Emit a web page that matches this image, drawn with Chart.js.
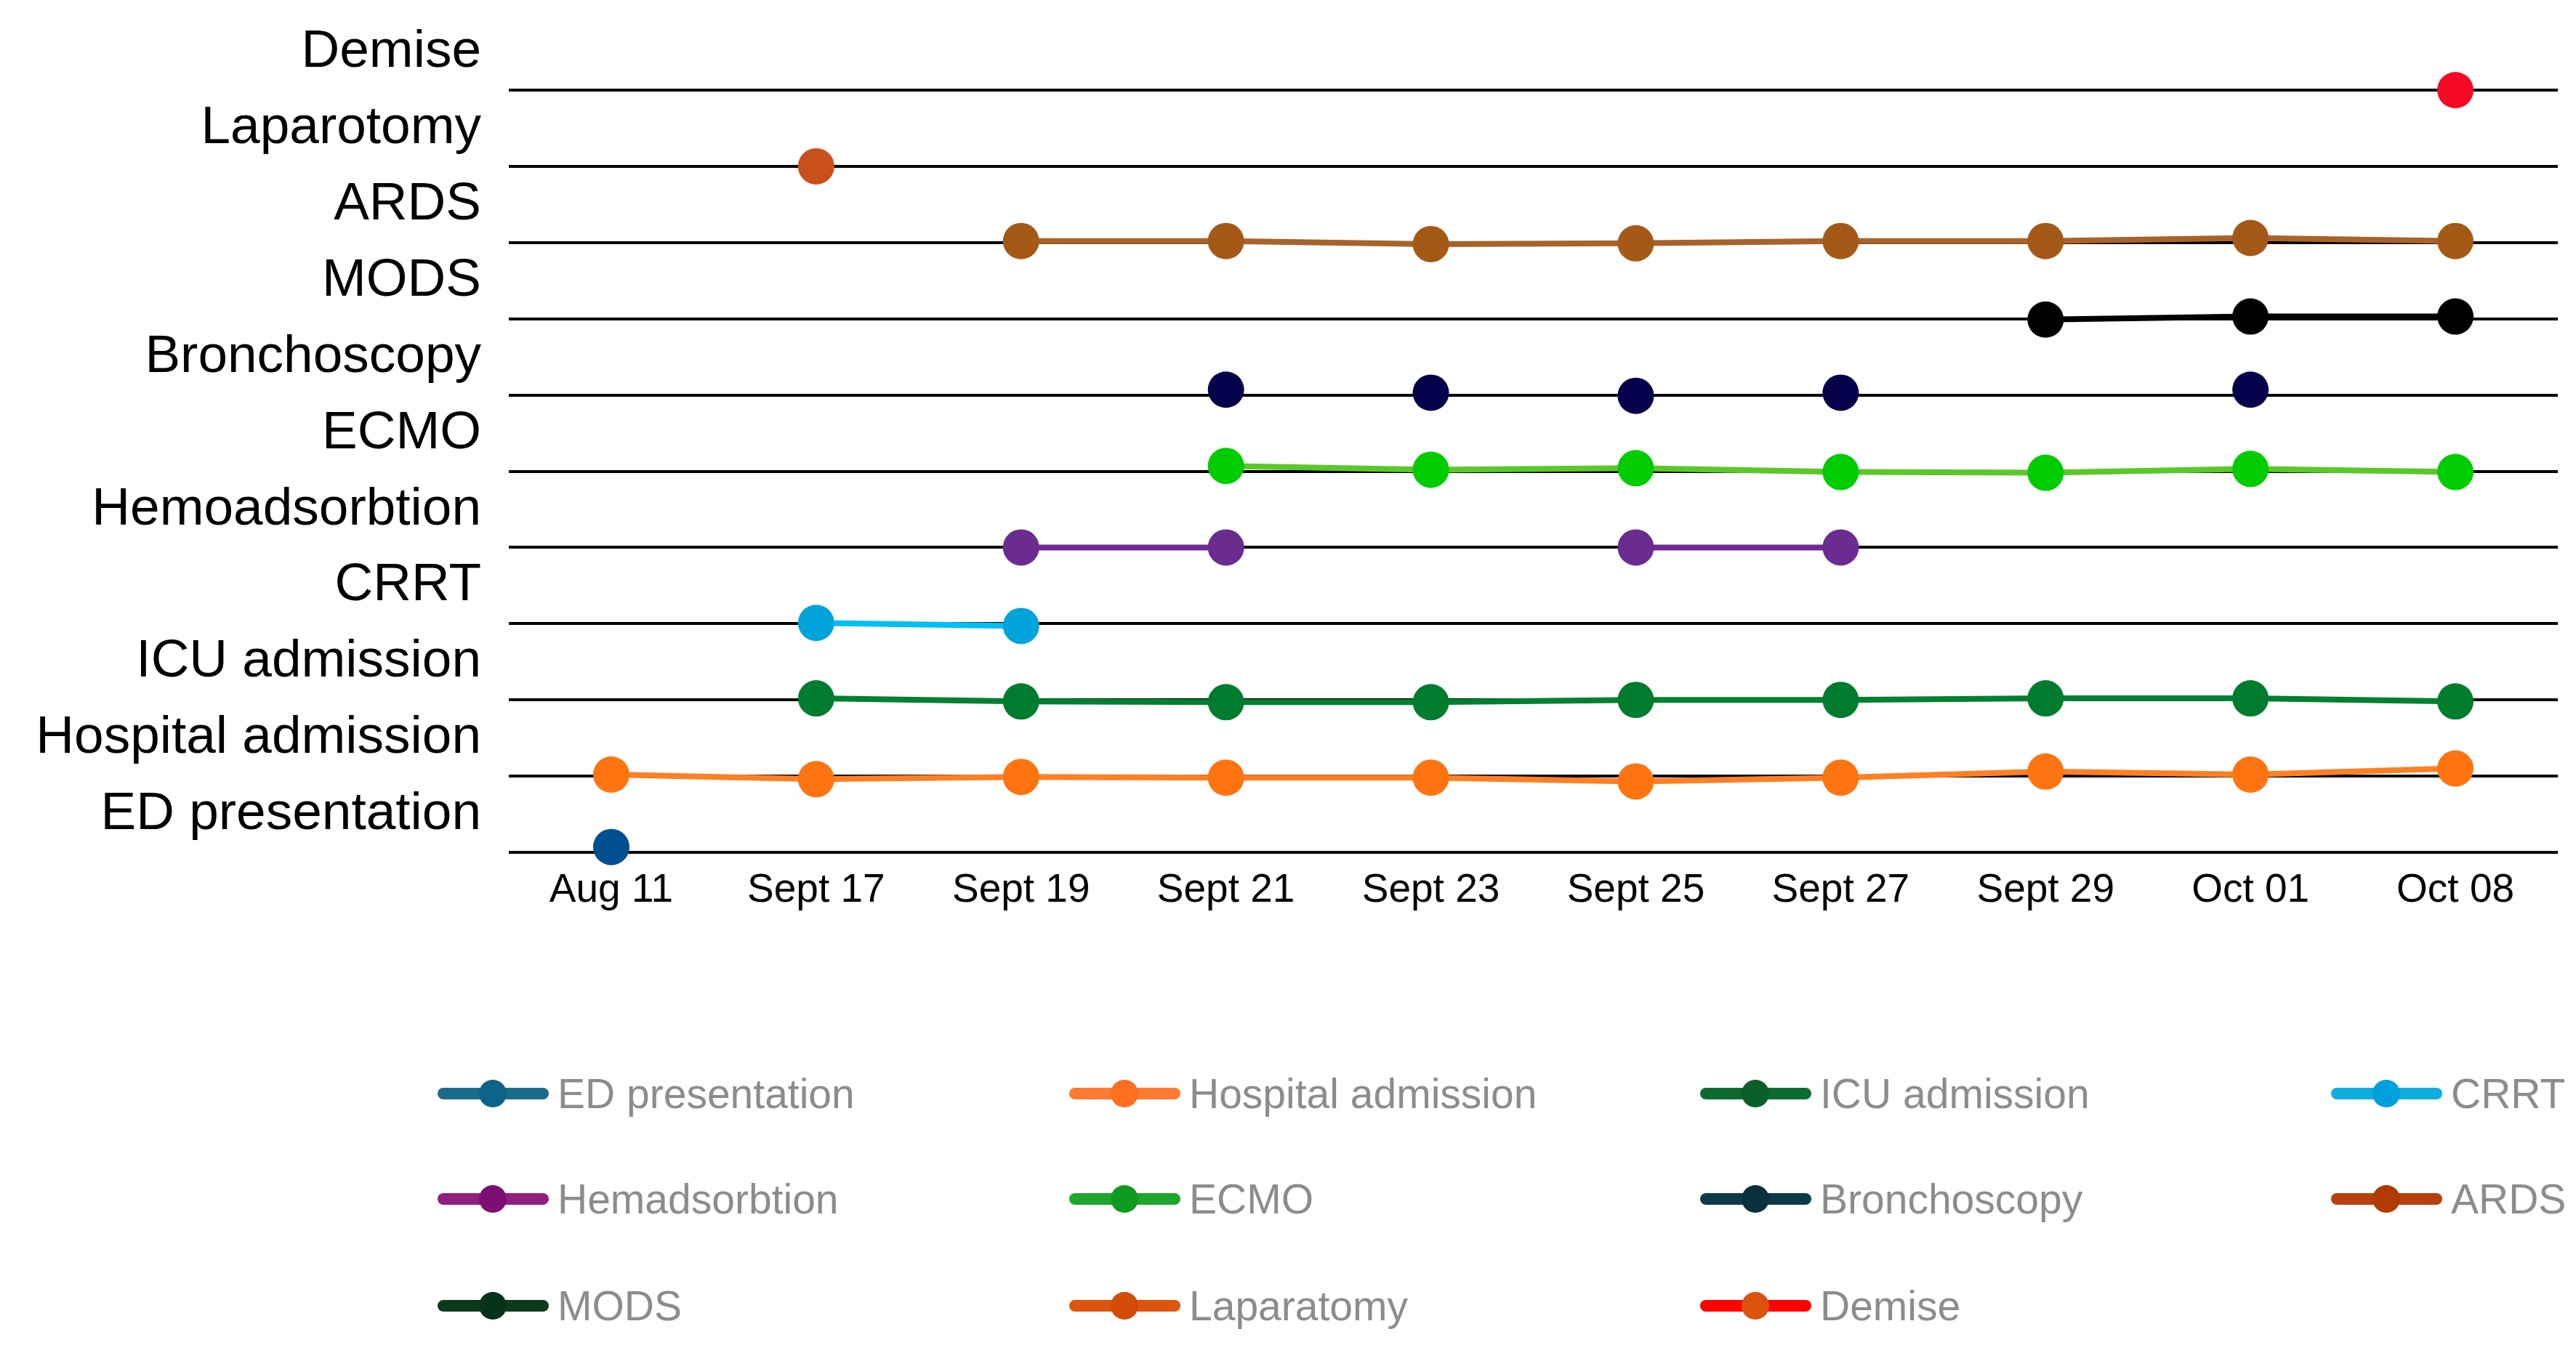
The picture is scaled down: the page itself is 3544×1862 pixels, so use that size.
<!DOCTYPE html>
<html>
<head>
<meta charset="utf-8">
<title>Clinical timeline</title>
<script src="https://cdn.jsdelivr.net/npm/chart.js@4.4.1/dist/chart.umd.min.js"></script>
<style>
  html, body { margin: 0; padding: 0; background: #fff; }
  #wrap { position: relative; width: 3544px; height: 1862px; overflow: hidden; }
  #chartBox { position: absolute; left: 0; top: 0; width: 3544px; height: 1330px; }
  .lg-item { position: absolute; height: 60px; display: flex; align-items: center; }
  .lg-mark { position: relative; width: 153px; height: 40px; flex: none; }
  .lg-line { position: absolute; left: 0; top: 12px; width: 153px; height: 16px; border-radius: 8px; }
  .lg-dot { position: absolute; left: 57px; top: 1px; width: 38px; height: 38px; border-radius: 50%; }
  .lg-text { margin-left: 12px; font-family: "Liberation Sans", Arial, sans-serif; font-size: 57px; color: #8c8c8c; white-space: nowrap; }
</style>
</head>
<body>
<div id="wrap">
  <div id="chartBox"><canvas id="timeline"></canvas></div>
  <div id="legend"></div>
</div>
<script>
// x categories (dates) and y categories (events, bottom to top)
const dates = ['Aug 11', 'Sept 17', 'Sept 19', 'Sept 21', 'Sept 23', 'Sept 25', 'Sept 27', 'Sept 29', 'Oct 01', 'Oct 08'];
const events = ['ED presentation', 'Hospital admission', 'ICU admission', 'CRRT', 'Hemoadsorbtion', 'ECMO',
                'Bronchoscopy', 'MODS', 'ARDS', 'Laparotomy', 'Demise'];

// series values, one per date (null = no event that day)
const edPresentation    = [0.07, null, null, null, null, null, null, null, null, null];
const hospitalAdmission = [1.02, 0.96, 0.99, 0.98, 0.98, 0.93, 0.98, 1.06, 1.02, 1.10];
const icuAdmission      = [null, 2.02, 1.98, 1.97, 1.97, 2.00, 2.00, 2.02, 2.02, 1.98];
const crrt              = [null, 3.01, 2.97, null, null, null, null, null, null, null];
const hemoadsorbtion    = [null, null, 4.00, 4.00, null, 4.00, 4.00, null, null, null];
const ecmo              = [null, null, null, 5.07, 5.02, 5.04, 4.99, 4.98, 5.03, 4.99];
const bronchoscopy      = [null, null, null, 6.07, 6.03, 5.99, 6.03, null, 6.07, null];
const mods              = [null, null, null, null, null, null, null, 6.99, 7.03, 7.03];
const ards              = [null, null, 8.02, 8.02, 7.98, 7.99, 8.02, 8.02, 8.06, 8.02];
const laparotomy        = [null, 9.00, null, null, null, null, null, null, null, null];
const demise            = [null, null, null, null, null, null, null, null, null, 10.00];

// legend entries (as spelled in the original legend)
const legendLabels = ['ED presentation', 'Hospital admission', 'ICU admission', 'CRRT',
                      'Hemadsorbtion', 'ECMO', 'Bronchoscopy', 'ARDS',
                      'MODS', 'Laparatomy', 'Demise'];
const legendLineColors = ['#1b6b8c', '#ff7a33', '#0e6b30', '#10aee0', '#8f1f80', '#1ca62c',
                          '#0d3a4a', '#b8400c', '#0b3a1a', '#dd5510', '#ff0000'];
const legendDotColors  = ['#0e6288', '#ff6f1f', '#0b5f28', '#00a0dc', '#7e0f72', '#0f9a20',
                          '#08303f', '#b03a00', '#06321a', '#d44c0a', '#d9530f'];

function series(label, data, dot, line, showLine = true) {
  return {
    label,
    data,
    showLine,
    spanGaps: false,
    clip: false,
    borderColor: line,
    borderWidth: 8,
    backgroundColor: dot,
    pointBackgroundColor: dot,
    pointBorderWidth: 0,
    pointRadius: 25,
    pointHoverRadius: 25,
  };
}

const datasets = [
  series('ED presentation', edPresentation, '#00508f', '#00508f'),
  series('Hospital admission', hospitalAdmission, '#ff7410', '#ff7f24'),
  series('ICU admission', icuAdmission, '#007c2e', '#008030'),
  series('CRRT', crrt, '#00a3da', '#00bff3'),
  series('Hemoadsorbtion', hemoadsorbtion, '#6b2c91', '#702a93'),
  series('ECMO', ecmo, '#00cc00', '#5bc82a'),
  series('Bronchoscopy', bronchoscopy, '#05004a', '#05004a', false),
  series('MODS', mods, '#000000', '#000000'),
  series('ARDS', ards, '#a45a16', '#a8632a'),
  series('Laparotomy', laparotomy, '#c9501a', '#c9501a'),
  series('Demise', demise, '#f50a23', '#f50a23'),
];

new Chart(document.getElementById('timeline'), {
  type: 'line',
  data: { labels: dates, datasets },
  options: {
    responsive: true,
    maintainAspectRatio: false,
    animation: false,
    events: [],
    layout: { padding: { top: 124, right: 22, left: 0, bottom: 0 } },
    plugins: {
      legend: { display: false },
      tooltip: { enabled: false },
    },
    scales: {
      x: {
        type: 'category',
        offset: true,
        grid: { display: false, drawTicks: false },
        border: { display: false },
        ticks: {
          color: '#000',
          padding: 20,
          maxRotation: 0,
          font: { family: 'Liberation Sans', size: 55 },
        },
        afterFit: (axis) => { axis.height = 157; },
      },
      y: {
        type: 'linear',
        min: 0,
        max: 10,
        afterBuildTicks: (axis) => { axis.ticks = events.map((_, i) => ({ value: i })); },
        grid: { color: '#000', lineWidth: 4, drawTicks: false },
        border: { display: false },
        ticks: {
          color: '#000',
          padding: 38,
          labelOffset: -52,
          font: { family: 'Liberation Sans', size: 73 },
          callback: (v) => events[v] ?? '',
        },
        afterFit: (axis) => { axis.width = 700; },
      },
    },
  },
});

// legend: 4 columns, 3 rows
const legendCols = [602, 1471, 2339, 3207];
const legendRows = [1505, 1650, 1797];
const legendEl = document.getElementById('legend');
legendLabels.forEach((name, i) => {
  const item = document.createElement('div');
  item.className = 'lg-item';
  item.style.left = legendCols[i % 4] + 'px';
  item.style.top = (legendRows[Math.floor(i / 4)] - 30) + 'px';
  item.innerHTML =
    `<span class="lg-mark"><span class="lg-line" style="background:${legendLineColors[i]}"></span>` +
    `<span class="lg-dot" style="background:${legendDotColors[i]}"></span></span>` +
    `<span class="lg-text">${name}</span>`;
  legendEl.appendChild(item);
});
</script>
</body>
</html>
